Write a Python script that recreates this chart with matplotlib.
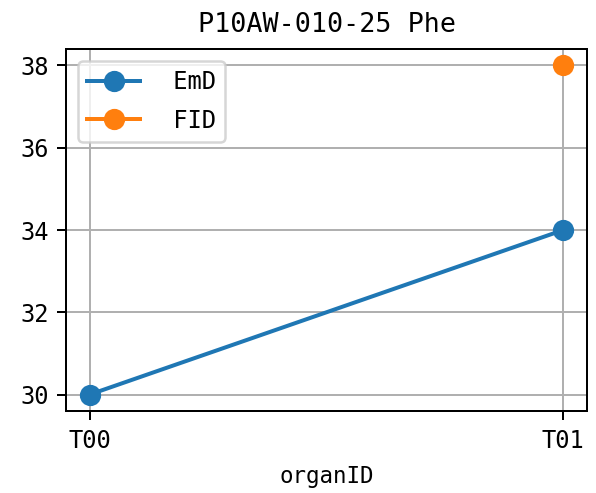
import matplotlib
matplotlib.use("Agg")
import matplotlib.pyplot as plt
import numpy as np

plt.rcParams['font.family'] = ['DejaVu Sans Mono', 'DejaVu Sans']

organs = ["T00", "T01"]
emd = [30, 34]
fid = [np.nan, 38]
labels = [" EmD", " FID"]

W, H, DPI = 596, 493, 180
fig = plt.figure(figsize=(W / DPI, H / DPI), dpi=DPI)
ax = fig.add_axes([66/W, 1 - 411/H, 521/W, 362/H])
ax.plot(organs, emd, marker='o', markersize=7.5, linewidth=1.6, label=labels[0])
ax.plot(organs, fid, marker='o', markersize=7.5, linewidth=1.6, label=labels[1])
ax.set_title("P10AW-010-25 Phe", fontsize=10.7, pad=7)
ax.set_xlabel("organID", fontsize=9, labelpad=5)
ax.grid(True)
ax.set_yticks([30, 32, 34, 36, 38])
ax.tick_params(labelsize=9.5)
ax.legend(loc='upper left', fontsize=9.5, handlelength=2.2, labelspacing=0.6)
fig.savefig("out.png", dpi=DPI)
